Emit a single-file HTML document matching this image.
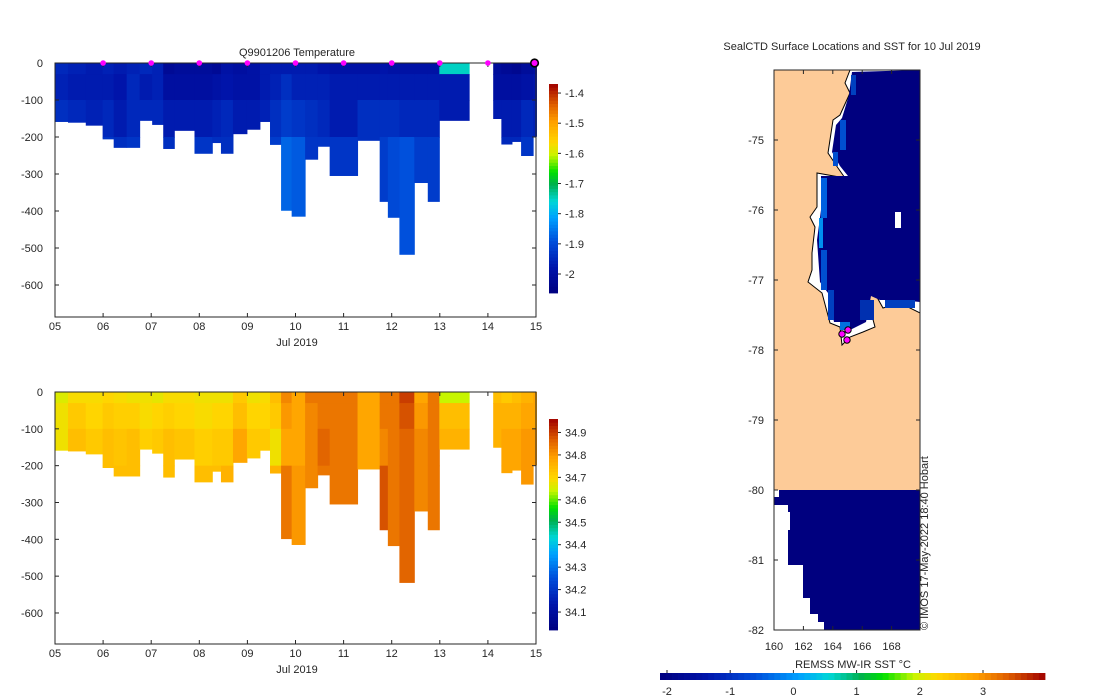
<!DOCTYPE html>
<html><head><meta charset="utf-8"><style>
body{margin:0;background:#fff;}
svg{display:block;font-family:"Liberation Sans","DejaVu Sans",sans-serif;}
text{fill:#262626;font-size:11px;}
</style></head><body>
<svg id="fig" width="1100" height="700">
<g id="p1"></g>
<g id="p2"></g>
<g id="map"></g>
</svg>
<script>
// ---- data ----
const colStart=[5.00,5.27,5.64,5.99,6.22,6.49,6.76,7.02,7.25,7.48,7.90,8.27,8.45,8.70,8.99,9.26,9.47,9.70,9.92,10.20,10.46,10.71,11.29,11.75,11.92,12.16,12.47,12.75,12.99,14.11,14.28,14.50,14.69,14.94];
const colEnd=[5.27,5.64,5.99,6.22,6.49,6.76,7.02,7.25,7.48,7.90,8.27,8.45,8.70,8.99,9.26,9.47,9.70,9.92,10.20,10.46,10.71,11.29,11.75,11.92,12.16,12.47,12.75,12.99,13.61,14.28,14.50,14.69,14.94,15.01];
const colMaxDepth=[158,160,168,205,228,228,155,166,231,182,244,215,244,191,179,158,220,398,414,260,225,304,209,374,417,517,323,374,155,150,219,212,250,198];
const layerTop=[0,30,100,200];
const layerBot=[30,100,200,1000];
const tempL0=[-1.95,-1.96,-1.97,-1.96,-1.97,-1.96,-1.95,-1.96,-2.02,-2.01,-2.01,-2.02,-1.99,-2.0,-1.99,-1.97,-1.97,-1.97,-1.97,-1.97,-1.98,-1.99,-1.99,-1.98,-1.99,-1.99,-1.99,-1.99,-1.75,-2.01,-2.02,-2.03,-2.01,-2.0];
const tempL1=[-1.96,-1.97,-1.97,-1.97,-1.98,-1.95,-1.97,-1.96,-2.0,-2.0,-2.0,-1.99,-1.98,-1.99,-1.99,-1.97,-1.96,-1.94,-1.96,-1.96,-1.96,-1.97,-1.97,-1.97,-1.97,-1.97,-1.97,-1.97,-1.97,-2.0,-2.0,-2.0,-1.99,-1.98];
const tempL2=[-1.94,-1.95,-1.96,-1.95,-1.97,-1.95,-1.95,-1.95,-1.97,-1.97,-1.97,-1.96,-1.95,-1.97,-1.97,-1.96,-1.94,-1.92,-1.93,-1.94,-1.95,-1.97,-1.94,-1.94,-1.94,-1.95,-1.95,-1.95,-1.97,-1.97,-1.97,-1.97,-1.95,-1.96];
const tempL3=[-1.94,-1.95,-1.96,-1.93,-1.94,-1.93,-1.95,-1.95,-1.94,-1.95,-1.93,-1.94,-1.94,-1.95,-1.97,-1.96,-1.92,-1.87,-1.88,-1.93,-1.93,-1.93,-1.94,-1.92,-1.90,-1.89,-1.92,-1.92,-1.97,-1.95,-1.95,-1.95,-1.93,-1.96];
const salL0=[34.66,34.69,34.69,34.70,34.69,34.68,34.68,34.67,34.69,34.69,34.68,34.68,34.68,34.72,34.68,34.69,34.74,34.82,34.78,34.84,34.84,34.84,34.78,34.84,34.84,34.90,34.78,34.84,34.64,34.74,34.72,34.74,34.76,34.78];
const salL1=[34.68,34.72,34.70,34.72,34.71,34.71,34.69,34.70,34.71,34.70,34.69,34.70,34.70,34.74,34.70,34.70,34.72,34.80,34.78,34.82,34.84,34.84,34.78,34.84,34.84,34.88,34.80,34.84,34.74,34.76,34.76,34.76,34.78,34.78];
const salL2=[34.68,34.74,34.72,34.74,34.73,34.74,34.71,34.72,34.74,34.73,34.71,34.72,34.72,34.78,34.72,34.72,34.68,34.78,34.78,34.82,34.86,34.84,34.78,34.82,34.84,34.86,34.82,34.84,34.76,34.76,34.78,34.78,34.80,34.80];
const salL3=[34.70,34.74,34.74,34.74,34.74,34.74,34.72,34.74,34.74,34.74,34.74,34.74,34.76,34.78,34.72,34.72,34.76,34.84,34.80,34.82,34.84,34.84,34.78,34.88,34.84,34.86,34.82,34.84,34.76,34.76,34.78,34.78,34.80,34.80];
const markerDays=[6,7,8,9,10,11,12,13,14];
const xTickDays=[5,6,7,8,9,10,11,12,13,14,15];
const xTickLabels=["05","06","07","08","09","10","11","12","13","14","15"];
const yTickDepths=[0,-100,-200,-300,-400,-500,-600];
const tempTicks=[-1.4,-1.5,-1.6,-1.7,-1.8,-1.9,-2];
const salTicks=[34.9,34.8,34.7,34.6,34.5,34.4,34.3,34.2,34.1];
const lonTicks=[160,162,164,166,168];
const latTicks=[-75,-76,-77,-78,-79,-80,-81,-82];
const sstTicks=[-2,-1,0,1,2,3];

const NS="http://www.w3.org/2000/svg";
function mk(parent,tag,attrs,txt){const e=document.createElementNS(NS,tag);for(const k in attrs)e.setAttribute(k,attrs[k]);if(txt!==undefined)e.textContent=txt;parent.appendChild(e);return e;}
const stops=[[0,[0,0,127]],[0.12,[0,20,170]],[0.25,[0,80,220]],[0.36,[0,160,255]],[0.44,[0,215,215]],[0.52,[0,176,80]],[0.58,[0,224,0]],[0.66,[200,245,0]],[0.72,[255,215,0]],[0.82,[255,160,0]],[0.9,[224,96,0]],[1,[160,0,0]]];
function cmap(t){t=Math.max(0,Math.min(1,t));for(let i=1;i<stops.length;i++){if(t<=stops[i][0]){const a=stops[i-1],b=stops[i];const f=(t-a[0])/(b[0]-a[0]);const c=a[1].map((v,j)=>Math.round(v+(b[1][j]-v)*f));return `rgb(${c[0]},${c[1]},${c[2]})`;}}return "rgb(160,0,0)";}

const X0=55, XPD=48.1, XR=X0+10*XPD;
function section(g,opt){
  const x=d=>X0+(d-5)*XPD, y=z=>opt.y0+z*opt.pxPerM;
  const L=[opt.L0,opt.L1,opt.L2,opt.L3];
  for(let i=0;i<colStart.length;i++){
    for(let k=0;k<4;k++){
      const top=layerTop[k], bot=Math.min(layerBot[k],colMaxDepth[i]);
      if(bot<=top)continue;
      const r=mk(g,'rect',{x:x(colStart[i]),y:y(top),width:x(colEnd[i])-x(colStart[i])+0.5,height:y(bot)-y(top)+0.5,fill:cmap((L[k][i]-opt.vmin)/(opt.vmax-opt.vmin))});
      
      
    }
  }
  const ax=mk(g,'rect',{x:X0,y:opt.y0,width:XR-X0,height:opt.yb-opt.y0,fill:'none',stroke:'#262626','stroke-width':1});
  
  xTickDays.forEach((d,i)=>{mk(g,'line',{x1:x(d),x2:x(d),y1:opt.yb,y2:opt.yb-4,stroke:'#262626'});mk(g,'line',{x1:x(d),x2:x(d),y1:opt.y0,y2:opt.y0+4,stroke:'#262626'});
    const t=mk(g,'text',{x:x(d),y:opt.yb+13,'text-anchor':'middle'},xTickLabels[i]);});
  yTickDepths.forEach(v=>{const yy=y(-v);mk(g,'line',{x1:X0,x2:X0+4,y1:yy,y2:yy,stroke:'#262626'});mk(g,'line',{x1:XR,x2:XR-4,y1:yy,y2:yy,stroke:'#262626'});
    const t=mk(g,'text',{x:43,y:yy+4,'text-anchor':'end'},String(v));});
  const xl=mk(g,'text',{x:297,y:opt.yb+29,'text-anchor':'middle'},'Jul 2019');
  const cb=mk(g,'g',{});
  const n=64,h=(opt.cbBot-opt.cbTop)/n;
  for(let i=0;i<n;i++)mk(cb,'rect',{x:549,y:opt.cbBot-(i+1)*h,width:9,height:h+0.4,fill:cmap((i+0.5)/n)});
  const cv=v=>opt.cbBot-(v-opt.vmin)/(opt.vmax-opt.vmin)*(opt.cbBot-opt.cbTop);
  opt.ticks.forEach(v=>{mk(cb,'line',{x1:558,x2:561,y1:cv(v),y2:cv(v),stroke:'#262626'});mk(cb,'text',{x:565,y:cv(v)+4},String(v));});
  return {x,y};
}
const g1=document.getElementById('p1');
const s1=section(g1,{y0:63,yb:317,pxPerM:0.3700,vmin:-2.063,vmax:-1.37,L0:tempL0,L1:tempL1,L2:tempL2,L3:tempL3,cbTop:84,cbBot:293,ticks:tempTicks});
const ttl=mk(g1,'text',{x:297,y:56,'text-anchor':'middle','font-size':'12'},'Q9901206  Temperature');
markerDays.forEach(d=>{const c=mk(g1,'circle',{cx:s1.x(d),cy:63,r:2.8,fill:'#ff00ff'});});
const cur=mk(g1,'circle',{cx:s1.x(14.97),cy:63,r:3.8,fill:'#ff00ff',stroke:'#000','stroke-width':1.6});
const g2=document.getElementById('p2');
section(g2,{y0:392,yb:644,pxPerM:0.3683,vmin:34.02,vmax:34.96,L0:salL0,L1:salL1,L2:salL2,L3:salL3,cbTop:419,cbBot:630,ticks:salTicks});

// ---- map ----
const m=document.getElementById('map');
const lon=v=>774+(v-160)*14.7, lat=v=>140+(-75-v)*70;
const mt=mk(m,'text',{x:852,y:50,'text-anchor':'middle'},'SealCTD Surface Locations and SST for 10 Jul 2019');
mk(m,'rect',{x:774,y:70,width:146,height:420,fill:'#fdcb98'});
mk(m,'rect',{x:774,y:490,width:146,height:140,fill:'#fff'});
const ocean=mk(m,'polygon',{points:'850,70 845,83 850,93 840,115 833,120 828,153 838,168 845,178 817,173 817,207 810,217 815,227 812,253 812,270 808,282 822,293 830,323 840,327 842,345 850,337 863,332 875,327 867,297 873,290 883,308 900,303 920,313 920,70',fill:'#fff',stroke:'#000','stroke-width':1});

mk(m,'polygon',{points:'852,72 849,95 842,118 836,125 832,152 840,166 848,176 821,176 821,210 817,240 820,282 828,293 834,322 845,322 850,330 866,322 871,296 880,300 900,300 920,302 920,70',fill:'#00007f'});
[[851,75,5,20,'#0040c0'],[840,120,6,30,'#0050d0'],[833,152,5,14,'#0050d0'],[821,178,6,40,'#0060e0'],[819,218,4,30,'#0090f0'],[821,250,6,40,'#0050d0'],[828,290,6,30,'#0040c0'],[840,322,10,8,'#0070e0'],[860,300,14,20,'#0030b0'],[885,300,30,8,'#0040c0'],[895,212,6,16,'#fff']].forEach(a=>mk(m,'rect',{x:a[0],y:a[1],width:a[2],height:a[3],fill:a[4]}));
[[842,334],[848,330],[847,340]].forEach(p=>{const c=mk(m,'circle',{cx:p[0],cy:p[1],r:3.2,fill:'#ff00ff',stroke:'#000','stroke-width':1});});
mk(m,'polygon',{points:'783,490 920,490 920,630 824,630 824,622 818,622 818,614 810,614 810,598 803,598 803,565 788,565 788,530 790,530 790,512 788,512 788,505 774,505 774,497 779,497 779,490',fill:'#00007f'});
mk(m,'rect',{x:774,y:70,width:146,height:560,fill:'none',stroke:'#262626'});
lonTicks.forEach(v=>{mk(m,'line',{x1:lon(v),x2:lon(v),y1:630,y2:626,stroke:'#262626'});mk(m,'line',{x1:lon(v),x2:lon(v),y1:70,y2:74,stroke:'#262626'});
  const t=mk(m,'text',{x:lon(v),y:650,'text-anchor':'middle'},String(v));});
latTicks.forEach(v=>{mk(m,'line',{x1:774,x2:778,y1:lat(v),y2:lat(v),stroke:'#262626'});mk(m,'line',{x1:920,x2:916,y1:lat(v),y2:lat(v),stroke:'#262626'});
  const t=mk(m,'text',{x:764,y:lat(v)+4,'text-anchor':'end'},String(v));});
const cp=mk(m,'text',{x:0,y:0,transform:'translate(928,630) rotate(-90)','font-size':'10'},'© IMOS 17-May-2022 18:40 Hobart');
const hb=mk(m,'g',{});
const nn=64,w=(1045-660)/nn;
for(let i=0;i<nn;i++)mk(hb,'rect',{x:660+i*w,y:673,width:w+0.4,height:7,fill:cmap((i+0.5)/nn)});
const sx=v=>667+(v+2)*63.2;
sstTicks.forEach(v=>{mk(hb,'line',{x1:sx(v),x2:sx(v),y1:673,y2:670,stroke:'#262626'});mk(hb,'text',{x:sx(v),y:695,'text-anchor':'middle'},String(v));});
const st=mk(m,'text',{x:853,y:668,'text-anchor':'middle'},'REMSS MW-IR SST °C');
</script>
</body></html>
